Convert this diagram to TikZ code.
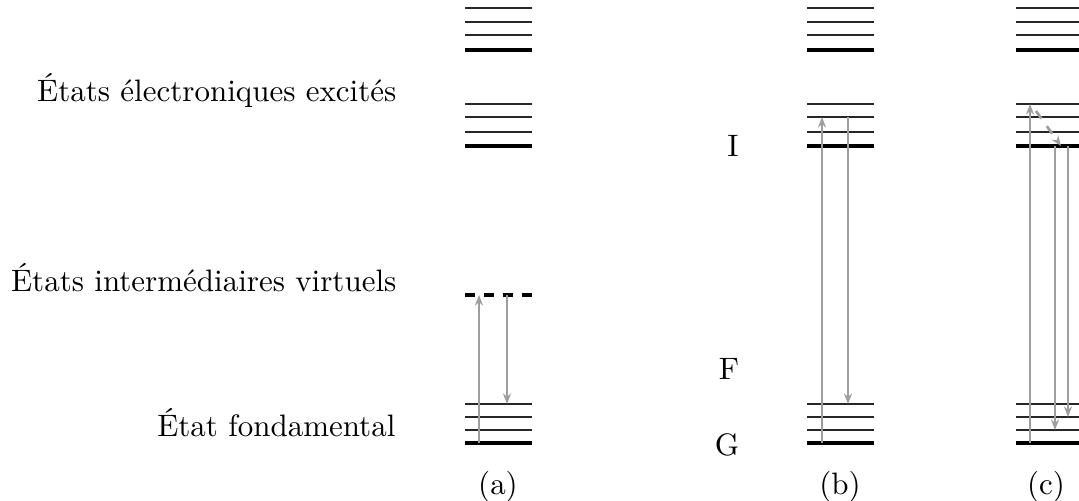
\documentclass[tikz,border=0pt]{standalone}
\usetikzlibrary{arrows.meta}
\begin{document}
\begin{tikzpicture}[x=0.3226pt,y=-0.3226pt,
  lvl/.style={line width=0.45pt,black!85},
  basel/.style={line width=1pt,black},
  virt/.style={line width=1pt,black,dash pattern=on 3.2pt off 2.9pt},
  tr/.style={draw=black!38,line width=0.85pt,-{Stealth[length=3.4pt,width=2.6pt]}},
  relax/.style={draw=black!38,line width=0.85pt,dashed,-{Stealth[length=3.4pt,width=2.6pt]}},
  lab/.style={inner sep=0pt,font=\normalsize}]
\useasboundingbox (0,0) rectangle (1079,501);
% level groups
\foreach \xa/\xb in {465/532, 807/874, 1016/1083}{
  \foreach \y in {8,22,35}{\draw[lvl] (\xa,\y) -- (\xb,\y);}
  \draw[basel] (\xa,50) -- (\xb,50);
  \foreach \y in {104,117,132}{\draw[lvl] (\xa,\y) -- (\xb,\y);}
  \draw[basel] (\xa,146) -- (\xb,146);
  \foreach \y in {404,417,430}{\draw[lvl] (\xa,\y) -- (\xb,\y);}
  \draw[basel] (\xa,443) -- (\xb,443);
}
\draw[virt] (465,295) -- (533,295);
% labels
\node[lab,anchor=base east] (exc) at (397,101.5) {États électroniques excités};
\node[lab,anchor=base east] (vir) at (397,291.5) {États intermédiaires virtuels};
\node[lab,anchor=base east] (fon) at (396,436.5) {État fondamental};
\node[lab,anchor=base] (I) at (733,156) {I};
\node[lab,anchor=base] (F) at (729,379) {F};
\node[lab,anchor=base] (G) at (727,455) {G};
\node[lab] (la) at (498,487) {(a)};
\node[lab] (lb) at (840,487) {(b)};
\node[lab] (lc) at (1046,487) {(c)};
% coordinates
\coordinate (a1) at (479,443); \coordinate (a2) at (479,295);
\coordinate (a3) at (507,295); \coordinate (a4) at (507,404);
\coordinate (b1) at (822,443); \coordinate (b2) at (822,117);
\coordinate (b3) at (848,117); \coordinate (b4) at (848,404);
\coordinate (c1) at (1030,443); \coordinate (c2) at (1030,104);
\coordinate (c3) at (1036,111); \coordinate (c4) at (1061,146);
\coordinate (c5) at (1055,146); \coordinate (c6) at (1055,430);
\coordinate (c7) at (1068,146); \coordinate (c8) at (1068,417);
% transitions
\draw[tr] (a1) -- (a2);
\draw[tr] (a3) -- (a4);
\draw[tr] (b1) -- (b2);
\draw[tr] (b3) -- (b4);
\draw[tr] (c1) -- (c2);
\draw[relax] (c3) -- (c4);
\draw[tr] (c5) -- (c6);
\draw[tr] (c7) -- (c8);
\end{tikzpicture}
\end{document}
